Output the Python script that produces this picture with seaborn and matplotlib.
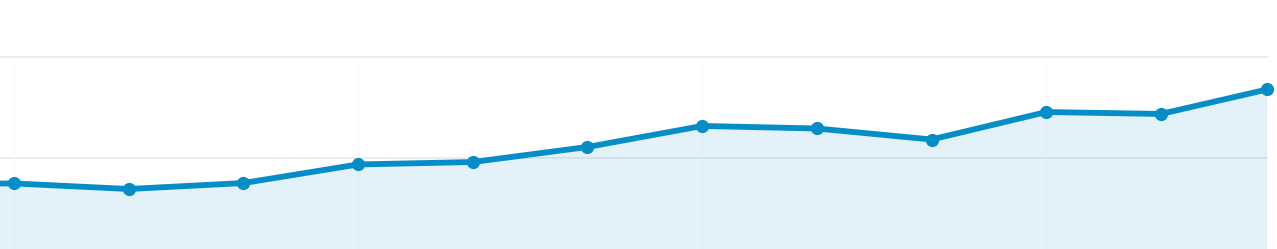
import matplotlib
matplotlib.use("Agg")
import matplotlib.pyplot as plt
import seaborn as sns
import pandas as pd
import numpy as np

# Data (x = period index; the first point lies just off the left edge, last is a partial period)
periods = [-1, 0, 1, 2, 3, 4, 5, 6, 7, 8, 9, 10, 10.924]
values = [745, 748, 693, 752, 936, 960, 1109, 1317, 1292, 1183, 1455, 1436, 1678]
y_grid = [1000, 2000]
x_grid = [0, 3, 6, 9]

LINE = "#058DC7"

sns.set_theme(style="white")
df = pd.DataFrame({"period": periods, "value": values})

fig = plt.figure(figsize=(12.77, 2.49), dpi=100)
ax = fig.add_axes([0, 0, 1268 / 1277, 1])

ax.set_xlim(-0.122, 10.933)
ax.set_ylim(99, 2564)

# grid
for g in y_grid:
    ax.axhline(g, color="#EAEAEA", lw=1.2, zorder=0)
for g in x_grid:
    ax.vlines(g, 99, y_grid[-1], color="#FAFAFA", lw=1.0, zorder=0)

ax.fill_between(df["period"], df["value"], 0, color=LINE, alpha=0.115, lw=0, zorder=1)
sns.lineplot(data=df, x="period", y="value", ax=ax, color=LINE, lw=4.2,
             marker="o", markersize=9.5, markeredgewidth=0, zorder=3,
             clip_on=False)

for s in ax.spines.values():
    s.set_visible(False)
ax.set_xticks([])
ax.set_yticks([])
ax.set_xlabel("")
ax.set_ylabel("")
ax.patch.set_alpha(0)

fig.savefig("out.png", dpi=100, facecolor="white")
